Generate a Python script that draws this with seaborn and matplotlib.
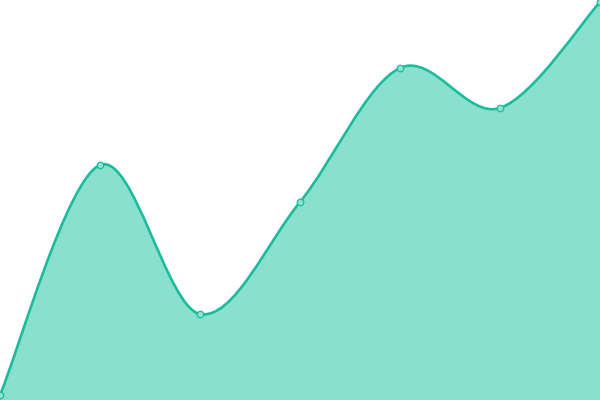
import numpy as np
import pandas as pd
import seaborn as sns
from matplotlib import pyplot as plt
from matplotlib.path import Path
from matplotlib.patches import PathPatch

# data (value = height above the bottom edge)
xs = [0, 100, 200, 300, 400, 500, 600]
values = [5, 235, 86, 198, 332, 292, 398]

line_color = '#1abc9c'
fill_color = '#89e0cf'

df = pd.DataFrame({'x': xs, 'y': values})

sns.set_theme(style='white')
fig = plt.figure(figsize=(6, 4), dpi=100)
ax = fig.add_axes([0, 0, 1, 1])

# cardinal (catmull-rom) curve as cubic bezier segments through the points
pts = np.column_stack([df['x'], df['y']]).astype(float)
ext = np.vstack([pts[0], pts, pts[-1]])
verts = [tuple(pts[0])]
codes = [Path.MOVETO]
for i in range(len(pts) - 1):
    p0, p1, p2, p3 = ext[i], ext[i + 1], ext[i + 2], ext[i + 3]
    c1 = p1 + (p2 - p0) / 6
    c2 = p2 - (p3 - p1) / 6
    verts += [tuple(c1), tuple(c2), tuple(p2)]
    codes += [Path.CURVE4] * 3

area_verts = verts + [(pts[-1][0], 0), (pts[0][0], 0), tuple(pts[0])]
area_codes = codes + [Path.LINETO, Path.LINETO, Path.CLOSEPOLY]
ax.add_patch(PathPatch(Path(area_verts, area_codes), facecolor=fill_color,
                       edgecolor='none', zorder=1))
ax.add_patch(PathPatch(Path(verts, codes), facecolor='none',
                       edgecolor=line_color, linewidth=1.9, zorder=2))

sns.scatterplot(data=df, x='x', y='y', ax=ax, s=22, color='#8fe3d3',
                edgecolor=line_color, linewidth=0.9, zorder=3, clip_on=False)

ax.set_xlim(0, 600)
ax.set_ylim(0, 400)
ax.set_axis_off()

fig.savefig('out.png', dpi=100)
